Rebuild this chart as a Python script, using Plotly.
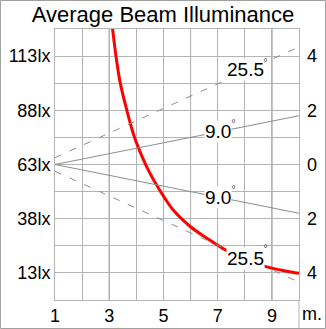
import plotly.graph_objects as go

# Illuminance curve (distance in m, lux)
dist = [3.1, 3.25, 3.4, 3.65, 3.92, 4.2, 4.5, 4.87, 5.36, 6.0, 6.6, 7.2, 7.8, 8.4, 9.0, 9.5, 10.0]
lux = [128, 113, 101, 88, 76, 67, 59, 51, 42, 34.3, 29, 24.2, 20.5, 17.3, 15.2, 13.9, 12.8]

# Beam spread lines (distance in m, half-diameter offset in m)
beam_x = [1, 10]
beam9_up = [0.0, 1.8]
beam9_dn = [0.0, -1.8]
beam25_up = [0.25, 4.34]
beam25_dn = [-0.25, -4.34]

x_ticks = [1, 3, 5, 7, 9]
lux_ticks = [13, 38, 63, 88, 113]
lux_text = ["13lx", "38lx", "63lx", "88lx", "113lx"]
m_ticks = [-4, -2, 0, 2, 4]
m_text = ["4", "2", "0", "2", "4"]

FONT = "Liberation Sans, Arial, sans-serif"
GRID = "#b4b4b4"
DARK = "#6a6a6a"
BEAM = "#8c8c8c"

fig = go.Figure()

fig.add_trace(go.Scatter(x=beam_x, y=beam9_up, yaxis="y2", mode="lines",
                         line=dict(color=BEAM, width=1), hoverinfo="skip"))
fig.add_trace(go.Scatter(x=beam_x, y=beam9_dn, yaxis="y2", mode="lines",
                         line=dict(color=BEAM, width=1), hoverinfo="skip"))
fig.add_trace(go.Scatter(x=beam_x, y=beam25_up, yaxis="y2", mode="lines",
                         line=dict(color=BEAM, width=1, dash="7px,9px"), hoverinfo="skip"))
fig.add_trace(go.Scatter(x=beam_x, y=beam25_dn, yaxis="y2", mode="lines",
                         line=dict(color=BEAM, width=1, dash="7px,9px"), hoverinfo="skip"))
fig.add_trace(go.Scatter(x=dist, y=lux, mode="lines", line=dict(color="#ff0000", width=3, shape="spline"),
                         hoverinfo="skip"))

W, H = 326, 329
L, R, T, B = 55, 27, 29, 29
pw, ph = W - L - R, H - T - B

def px_x(px):
    return (px - L) / pw

def px_y(py):
    return (H - B - py) / ph

shapes = []
for xv in [3, 6, 9]:
    shapes.append(dict(type="line", xref="x", yref="paper", x0=xv, x1=xv, y0=0, y1=1,
                       line=dict(color=DARK, width=1), layer="below"))
# right separator extending to bottom
shapes.append(dict(type="line", xref="paper", yref="paper", x0=1, x1=1, y0=px_y(328.5), y1=0,
                   line=dict(color=GRID, width=1)))
# outer frame
shapes.append(dict(type="rect", xref="paper", yref="paper", x0=px_x(0.5), x1=px_x(325.5),
                   y0=px_y(328.5), y1=px_y(0.5), line=dict(color="#a0a0a0", width=1)))

annotations = []
labels = [("25.5", 8.01, 3.52, 8.77, 3.77), ("9.0", 7.03, 1.20, 7.59, 1.53),
          ("9.0", 7.03, -1.20, 7.59, -0.92), ("25.5", 8.01, -3.45, 8.77, -3.09)]
for txt, ax_, ay_, dx_, dy_ in labels:
    annotations.append(dict(text=txt, x=ax_, y=ay_, xref="x", yref="y2", showarrow=False,
                            font=dict(family=FONT, size=19, color="black"), bgcolor="white",
                            borderpad=0, xanchor="center", yanchor="middle"))
    annotations.append(dict(text="°", x=dx_, y=dy_, xref="x", yref="y2", showarrow=False,
                            font=dict(family="DejaVu Sans", size=10, color="#555555"),
                            xanchor="center", yanchor="middle"))
annotations.append(dict(text="m.", x=px_x(312), y=px_y(314), xref="paper", yref="paper",
                        showarrow=False, font=dict(family=FONT, size=18, color="black"),
                        xanchor="center", yanchor="middle"))

fig.update_layout(
    width=W, height=H, margin=dict(l=L, r=R, t=T, b=B, autoexpand=False),
    paper_bgcolor="white", plot_bgcolor="white", showlegend=False,
    title=dict(text="Average Beam Illuminance", x=0.5, xref="container", xanchor="center",
               y=1 - 14 / H, yref="container", yanchor="middle",
               font=dict(family=FONT, size=22, color="black")),
    font=dict(family=FONT, size=18, color="black"),
    xaxis=dict(range=[1, 10], tickvals=x_ticks, showgrid=False, zeroline=False, ticks="",
               showline=True, mirror=True, linecolor=GRID, linewidth=1, automargin=False,
               minor=dict(dtick=1, tick0=0, showgrid=True, gridcolor=GRID, gridwidth=1),
               tickfont=dict(size=18), ticklabelstandoff=-1),
    yaxis=dict(range=[0.5, 125.5], tickvals=lux_ticks, ticktext=lux_text, showgrid=False,
               zeroline=False, ticks="", showline=True, mirror=True, linecolor=GRID,
               automargin=False,
               minor=dict(dtick=12.5, tick0=0.5, showgrid=True, gridcolor=GRID, gridwidth=1),
               tickfont=dict(size=18)),
    yaxis2=dict(range=[-5, 5], overlaying="y", side="right", tickvals=m_ticks, ticktext=m_text,
                showgrid=False, zeroline=False, ticks="", tickfont=dict(size=18),
                ticklabelstandoff=7, automargin=False),
    shapes=shapes, annotations=annotations,
)

fig.write_html("out.html")
